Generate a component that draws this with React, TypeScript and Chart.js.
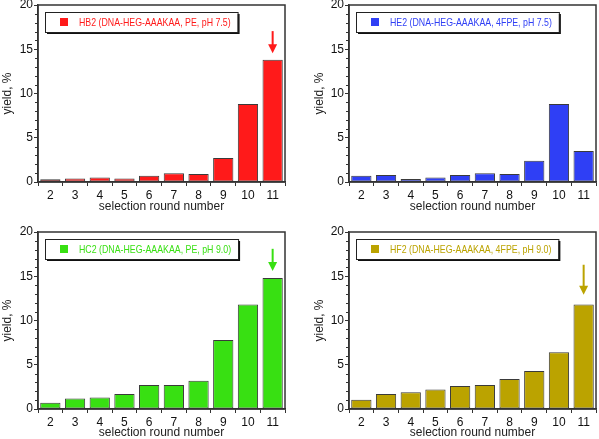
import React, { useEffect, useRef } from "react";
import { Chart, registerables } from "chart.js";

Chart.register(...registerables);

// ---- data ----
const rounds = ["2", "3", "4", "5", "6", "7", "8", "9", "10", "11"];
const hb2Values = [0.3, 0.4, 0.5, 0.4, 0.7, 1.0, 0.9, 2.7, 8.8, 13.8];
const he2Values = [0.7, 0.8, 0.35, 0.5, 0.8, 1.0, 0.9, 2.4, 8.8, 3.5];
const hc2Values = [0.7, 1.2, 1.3, 1.7, 2.7, 2.7, 3.2, 7.8, 11.8, 14.8];
const hf2Values = [1.05, 1.7, 1.9, 2.2, 2.6, 2.7, 3.4, 4.3, 6.4, 11.8];
const seriesLabels = [
  "HB2 (DNA-HEG-AAAKAA, PE, pH 7.5)",
  "HE2 (DNA-HEG-AAAKAA, 4FPE, pH 7.5)",
  "HC2 (DNA-HEG-AAAKAA, PE, pH 9.0)",
  "HF2 (DNA-HEG-AAAKAA, 4FPE, pH 9.0)",
];
// arrow annotations: [round index, tail value, tip value] (null = no arrow)
const hb2Arrow = [9, 17.05, 14.55];
const he2Arrow = null;
const hc2Arrow = [9, 18.1, 15.6];
const hf2Arrow = [9, 16.3, 12.9];
const yMin = 0;
const yMax = 20;
const yStep = 5;
const xTitle = "selection round number";
const yTitle = "yield, %";

const FONT = "'Liberation Sans', Arial, Helvetica, sans-serif";
const AXIS = "#333333";

const framePlugin = {
  id: "frame",
  afterDraw(chart: any) {
    const { ctx, chartArea: a, scales } = chart;
    ctx.save();
    // minor ticks on y axis
    ctx.strokeStyle = AXIS;
    ctx.lineWidth = 1;
    const y = scales.y;
    for (let v = yMin; v <= yMax; v += 1) {
      if (v % yStep === 0) continue;
      const py = Math.round(y.getPixelForValue(v)) + 0.5;
      ctx.beginPath();
      ctx.moveTo(a.left - 3, py);
      ctx.lineTo(a.left, py);
      ctx.stroke();
    }
    ctx.lineWidth = 1.5;
    ctx.strokeRect(a.left, a.top, a.right - a.left, a.bottom - a.top);
    ctx.restore();
  },
};

const legendPlugin = {
  id: "boxLegend",
  afterDraw(chart: any) {
    const { ctx, chartArea: a } = chart;
    const ds = chart.data.datasets[0];
    const color = ds.backgroundColor;
    const text = ds.label;
    ctx.save();
    ctx.font = `11px ${FONT}`;
    const sx = 0.8;
    const tw = ctx.measureText(text).width * sx;
    const bx = a.left + 7;
    const by = a.top + 7;
    const bw = 34 + tw + 7;
    const bh = 20;
    ctx.fillStyle = "#111";
    ctx.fillRect(bx + 2, by + 2, bw, bh);
    ctx.fillStyle = "#fff";
    ctx.fillRect(bx, by, bw, bh);
    ctx.strokeStyle = "#222";
    ctx.lineWidth = 1;
    ctx.strokeRect(bx + 0.5, by + 0.5, bw, bh);
    ctx.fillStyle = color;
    ctx.fillRect(bx + 15, by + bh / 2 - 4, 8, 8);
    ctx.textBaseline = "middle";
    ctx.textAlign = "left";
    ctx.translate(bx + 34, by + bh / 2 + 0.5);
    ctx.scale(sx, 1);
    ctx.fillText(text, 0, 0);
    ctx.restore();
  },
};

const arrowPlugin = {
  id: "arrowMark",
  afterDraw(chart: any, _args: any, opts: any) {
    const arrow = opts && opts.arrow;
    if (!arrow) return;
    const { ctx, scales } = chart;
    const color = chart.data.datasets[0].backgroundColor;
    const x = scales.x.getPixelForValue(arrow[0]);
    const yTail = scales.y.getPixelForValue(arrow[1]);
    const yTip = scales.y.getPixelForValue(arrow[2]);
    const headL = 9;
    const headW = 4.5;
    ctx.save();
    ctx.strokeStyle = color;
    ctx.fillStyle = color;
    ctx.lineWidth = 2;
    ctx.beginPath();
    ctx.moveTo(x, yTail);
    ctx.lineTo(x, yTip - headL + 1);
    ctx.stroke();
    ctx.beginPath();
    ctx.moveTo(x - headW, yTip - headL);
    ctx.lineTo(x + headW, yTip - headL);
    ctx.lineTo(x, yTip);
    ctx.closePath();
    ctx.fill();
    ctx.restore();
  },
};

type PanelProps = {
  label: string;
  values: number[];
  color: string;
  arrow: number[] | null;
  left: number;
  top: number;
  width: number;
  height: number;
  padLeft: number;
  padRight: number;
  padTop: number;
  xHeight: number;
  xTitlePad: number;
  yTitlePad: number;
};

function Panel(p: PanelProps) {
  const ref = useRef<HTMLCanvasElement | null>(null);
  useEffect(() => {
    if (!ref.current) return;
    const chart = new Chart(ref.current, {
      type: "bar",
      data: {
        labels: rounds,
        datasets: [
          {
            label: p.label,
            data: p.values,
            backgroundColor: p.color,
            borderColor: "#3a3a3a",
            borderWidth: 1,
            borderSkipped: false,
            barPercentage: 0.82,
            categoryPercentage: 1,
          },
        ],
      },
      options: {
        responsive: false,
        animation: false,
        events: [],
        layout: {
          padding: { left: p.padLeft, right: p.padRight, top: p.padTop, bottom: 0 },
        },
        plugins: {
          legend: { display: false },
          tooltip: { enabled: false },
          arrowMark: { arrow: p.arrow },
        } as any,
        scales: {
          x: {
            offset: true,
            grid: {
              offset: true,
              drawOnChartArea: false,
              tickLength: 4,
              color: AXIS,
              lineWidth: 1,
            },
            border: { color: AXIS, width: 1.5 },
            ticks: {
              color: "#111",
              font: { family: FONT, size: 12 },
              padding: 2,
              maxRotation: 0,
              autoSkip: false,
            },
            title: {
              display: true,
              text: xTitle,
              color: "#222",
              font: { family: FONT, size: 12, lineHeight: 1 },
              padding: { top: 0, bottom: p.xTitlePad },
            },
            afterFit(scale: any) {
              scale.height = p.xHeight;
              scale.paddingLeft = 0;
              scale.paddingRight = 0;
            },
          },
          y: {
            min: yMin,
            max: yMax,
            grid: {
              drawOnChartArea: false,
              tickLength: 4,
              color: AXIS,
              lineWidth: 1,
            },
            border: { color: AXIS, width: 1.5 },
            ticks: {
              stepSize: yStep,
              color: "#111",
              font: { family: FONT, size: 12 },
              padding: 1,
            },
            title: {
              display: true,
              text: yTitle,
              color: "#222",
              font: { family: FONT, size: 12, lineHeight: 1 },
              padding: { top: p.yTitlePad, bottom: 0 },
            },
            afterFit(scale: any) {
              scale.width = 38;
              scale.paddingTop = 0;
              scale.paddingBottom = 0;
            },
          },
        } as any,
      },
      plugins: [framePlugin, legendPlugin, arrowPlugin],
    });
    return () => chart.destroy();
  }, []);
  return (
    <div
      style={{
        position: "absolute",
        left: p.left,
        top: p.top,
        width: p.width,
        height: p.height,
      }}
    >
      <canvas
        ref={ref}
        width={p.width}
        height={p.height}
        style={{ width: p.width, height: p.height, display: "block" }}
      />
    </div>
  );
}

export default function App() {
  return (
    <div
      style={{
        position: "absolute",
        left: 0,
        top: 0,
        width: 599,
        height: 439,
        background: "#fff",
        overflow: "hidden",
      }}
    >
      <Panel
        label={seriesLabels[0]}
        values={hb2Values}
        color="#ff1a1a"
        arrow={hb2Arrow}
        left={0}
        top={0}
        width={299}
        height={219}
        padLeft={0}
        padRight={14}
        padTop={5}
        xHeight={37}
        xTitlePad={6}
        yTitlePad={2}
      />
      <Panel
        label={seriesLabels[1]}
        values={he2Values}
        color="#2f3ff5"
        arrow={he2Arrow}
        left={299}
        top={0}
        width={300}
        height={219}
        padLeft={12}
        padRight={3}
        padTop={5}
        xHeight={37}
        xTitlePad={6}
        yTitlePad={3}
      />
      <Panel
        label={seriesLabels[2]}
        values={hc2Values}
        color="#38e012"
        arrow={hc2Arrow}
        left={0}
        top={219}
        width={299}
        height={220}
        padLeft={0}
        padRight={14}
        padTop={13}
        xHeight={30}
        xTitlePad={0}
        yTitlePad={2}
      />
      <Panel
        label={seriesLabels[3]}
        values={hf2Values}
        color="#bba300"
        arrow={hf2Arrow}
        left={299}
        top={219}
        width={300}
        height={220}
        padLeft={12}
        padRight={3}
        padTop={13}
        xHeight={30}
        xTitlePad={0}
        yTitlePad={3}
      />
    </div>
  );
}
